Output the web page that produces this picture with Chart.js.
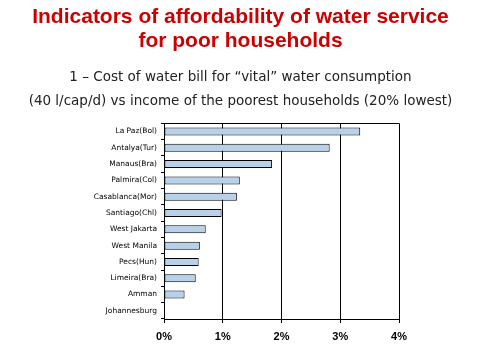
<!DOCTYPE html>
<html>
<head>
<meta charset="utf-8">
<script src="https://cdn.jsdelivr.net/npm/chart.js@4/dist/chart.umd.min.js"></script>
<style>
  html, body { margin: 0; padding: 0; background: #fff; }
  canvas { display: block; }
</style>
</head>
<body>
<canvas id="chart" width="481" height="361"></canvas>
<script>
// cities, top to bottom
const cities = [
  "La Paz(Bol)", "Antalya(Tur)", "Manaus(Bra)", "Palmira(Col)",
  "Casablanca(Mor)", "Santiago(Chl)", "West Jakarta", "West Manila",
  "Pecs(Hun)", "Limeira(Bra)", "Amman", "Johannesburg"
];
// share of income (%) spent on the "vital" water bill
const billShare = [3.34, 2.82, 1.84, 1.29, 1.24, 0.98, 0.71, 0.61, 0.59, 0.54, 0.35, 0];
const xTicks = [0, 1, 2, 3, 4];

const titleLines = ["Indicators of affordability of water service", "for poor households"];
const subtitleLines = [
  "1 \u2013 Cost of water bill for \u201cvital\u201d water consumption",
  "(40 l/cap/d) vs income of the poorest households (20% lowest)"
];

// draws the top line of the plot box
const plotFrame = {
  id: "plotFrame",
  afterDatasetsDraw(chart) {
    const { ctx, chartArea: a } = chart;
    ctx.save();
    ctx.strokeStyle = "#000";
    ctx.lineWidth = 1;
    ctx.beginPath();
    ctx.moveTo(a.left, Math.round(a.top) + 0.5);
    ctx.lineTo(a.right, Math.round(a.top) + 0.5);
    ctx.stroke();
    ctx.restore();
  }
};

new Chart(document.getElementById("chart"), {
  type: "bar",
  data: {
    labels: cities,
    datasets: [{
      data: billShare,
      backgroundColor: "#b8d1ea",
      borderColor: "#000",
      borderWidth: 1,
      borderSkipped: false,
      barPercentage: 0.49,
      categoryPercentage: 1
    }]
  },
  options: {
    indexAxis: "y",
    responsive: false,
    animation: false,
    layout: { padding: 0 },
    plugins: {
      legend: { display: false },
      tooltip: { enabled: false },
      title: {
        display: true,
        text: titleLines,
        color: "#cc0000",
        font: { family: "'Liberation Sans', Arial, sans-serif", size: 21, weight: "bold", lineHeight: 1.15 },
        padding: { top: 5, bottom: 0 }
      },
      subtitle: {
        display: true,
        text: subtitleLines,
        color: "#222",
        font: { family: "'DejaVu Sans', Verdana, sans-serif", size: 13.5, lineHeight: 1.78 },
        padding: { top: 12, bottom: 10 }
      }
    },
    scales: {
      x: {
        min: 0,
        max: 4,
        afterBuildTicks(scale) {
          scale.ticks = xTicks.map(v => ({ value: v }));
        },
        afterFit(scale) { scale.height = 42; },
        ticks: {
          color: "#000",
          padding: 7,
          font: { family: "'Liberation Sans Narrow', 'Liberation Sans', Arial, sans-serif", size: 11, weight: "bold" },
          callback: v => v + "%"
        },
        grid: { color: "#000", lineWidth: 1, tickLength: 4 },
        border: { color: "#000", width: 1 }
      },
      y: {
        afterFit(scale) { scale.width = 164; },
        ticks: {
          color: "#000",
          padding: 4,
          font: { family: "'DejaVu Sans', Verdana, sans-serif", size: 7.5 }
        },
        grid: { drawOnChartArea: false, color: "#000", tickLength: 3, offset: true },
        border: { color: "#000", width: 1 }
      },
      // empty right-hand strip, keeps the titles centred on the page
      yRight: {
        type: "category",
        position: "right",
        labels: cities,
        afterFit(scale) { scale.width = 82; },
        ticks: { display: false },
        grid: { display: false },
        border: { display: false }
      }
    }
  },
  plugins: [plotFrame]
});
</script>
</body>
</html>
